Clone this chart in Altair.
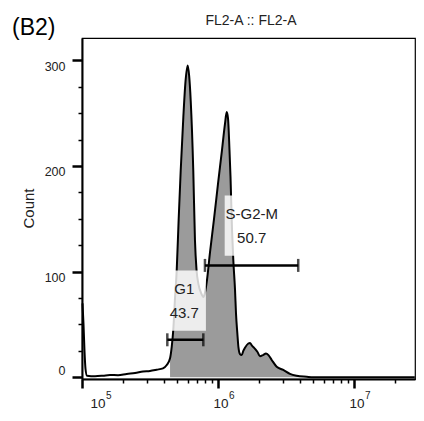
import altair as alt
import pandas as pd

# ---- histogram trace (FL2-A channel value, cell count) ----
fl2a = [1.0085e5, 1.026e5, 1.043e5, 1.061e5, 1.089e5, 1.247e5, 1.426e5, 1.606e5,
        1.841e5, 2.133e5, 2.455e5, 2.81e5, 3.16e5, 3.54e5, 3.94e5, 4.2e5, 4.44e5,
        4.57e5, 4.69e5, 4.83e5, 4.97e5, 5.14e5, 5.32e5, 5.56e5, 5.77e5, 5.99e5,
        6.14e5, 6.3e5, 6.58e5, 6.77e5, 6.95e5, 7.19e5, 7.5e5, 7.82e5, 8.02e5,
        8.26e5, 8.73e5, 9.35e5, 1.0e6, 1.07e6, 1.126e6, 1.159e6, 1.185e6, 1.215e6,
        1.236e6, 1.268e6, 1.296e6, 1.334e6, 1.357e6, 1.387e6, 1.415e6, 1.451e6,
        1.494e6, 1.535e6, 1.579e6, 1.671e6, 1.718e6, 1.778e6, 1.871e6, 1.952e6,
        2.037e6, 2.142e6, 2.254e6, 2.351e6, 2.483e6, 2.702e6, 3.02e6, 3.383e6,
        3.79e6, 4.49e6, 4.995e6, 2.8e7]
count = [70, 50, 25, 8, 1.5, 1.0, 1.5, 2.2,
         2.0, 3.2, 4.0, 5.5, 6.0, 7.2, 8.5, 11.6, 18,
         29, 45, 75, 101, 150, 196, 246, 280, 295,
         285, 262, 196, 130, 102, 88, 80, 76, 80,
         90, 118, 150, 183, 215, 240, 251, 245, 215,
         190, 140, 111, 83, 60, 42, 28, 22,
         21, 25, 28, 32, 32.5, 30, 27, 24,
         20, 21, 22.5, 21, 16.4, 10, 7, 3.3,
         1.5, 0.5, 0, 0]

# ---- gates ----
gate_names = ["G1", "S-G2-M"]
gate_pct = ["43.7", "50.7"]
gate_lo = [4.24e5, 8.02e5]
gate_hi = [7.8e5, 3.89e6]
gate_level = [35.5, 105.9]
label_x = [5.65e5, 1.77e6]
label_name_y = [83.5, 154.5]
label_pct_y = [60.8, 131.7]
box_x1 = [4.05e5, 1.12e6]
box_x2 = [8.15e5, 2.86e6]
box_y1 = [44, 115]
box_y2 = [101, 172]

# ---- axes / texts ----
y_major = [0, 100, 200, 300]
y_minor = [25, 50, 75, 125, 150, 175, 225, 250, 275]
x_major = [1e5, 1e6, 1e7]
x_minor = [2e5, 3e5, 4e5, 5e5, 6e5, 7e5, 8e5, 9e5,
           2e6, 3e6, 4e6, 5e6, 6e6, 7e6, 8e6, 9e6, 2e7]
x_exp = ["5", "6", "7"]
panel_label = ["(B2)"]
plot_title = ["FL2-A :: FL2-A"]

FONT = "Liberation Sans"
W, H = 333, 341

hist = pd.DataFrame({"v": fl2a, "c": count})
gates = pd.DataFrame({"name": gate_names, "pct": gate_pct, "lo": gate_lo, "hi": gate_hi,
                      "lvl": gate_level, "lx": label_x, "ny": label_name_y,
                      "py": label_pct_y, "bx1": box_x1, "bx2": box_x2,
                      "by1": box_y1, "by2": box_y2})
caps = pd.DataFrame({"v": gate_lo + gate_hi, "lvl": gate_level + gate_level})
xlab = pd.DataFrame({"v": x_major, "e": x_exp, "b": ["10"] * 3})
panel = pd.DataFrame({"t": panel_label})
ttl = pd.DataFrame({"t": plot_title})

xs = alt.Scale(type="log", domain=[1e5, 2.81e7], nice=False)
ys = alt.Scale(domain=[-1.6, 321.1], nice=False, zero=False)

major_x_axis = alt.Axis(values=x_major, labels=False, tickSize=9, tickWidth=2.5,
                        tickColor="black", domainColor="black", domainWidth=2,
                        grid=False, title=None, orient="bottom", zindex=1)
major_y_axis = alt.Axis(values=y_major, tickSize=10, tickWidth=2.5, tickColor="black",
                        domainColor="black", domainWidth=2, grid=False,
                        labelFont=FONT, labelFontSize=12.5, labelColor="#222",
                        labelPadding=7, labelAlign="right",
                        labelBaseline={"condition": {"test": "datum.value === 0", "value": "bottom"},
                                       "value": "top"},
                        title="Count", titleFont=FONT, titleFontSize=15,
                        titleFontWeight="normal", titleColor="#222",
                        titleX=-54, titleY=170, titleAngle=270, titleAlign="center",
                        titleBaseline="middle", orient="left", zindex=1)
minor_x_axis = alt.Axis(values=x_minor, labels=False, tickSize=4, tickWidth=1.5,
                        tickColor="black", domain=False, grid=False, title=None,
                        orient="bottom", zindex=1)
minor_y_axis = alt.Axis(values=y_minor, labels=False, tickSize=4, tickWidth=1.5,
                        tickColor="black", domain=False, grid=False, title=None,
                        orient="left", zindex=1)

area = alt.Chart(hist).transform_filter(
    (alt.datum.v >= 4.4e5) & (alt.datum.v <= 5.0e6)
).mark_area(color="#9b9b9b", interpolate="monotone").encode(
    x=alt.X("v:Q", scale=xs, axis=None),
    y=alt.Y("c:Q", scale=ys, axis=None),
)

line = alt.Chart(hist).mark_line(color="black", strokeWidth=2, interpolate="monotone").encode(
    x=alt.X("v:Q", scale=xs, axis=major_x_axis),
    y=alt.Y("c:Q", scale=ys, axis=major_y_axis),
)

boxes = alt.Chart(gates).mark_rect(color="white", opacity=0.82).encode(
    x=alt.X("bx1:Q", scale=xs, axis=minor_x_axis),
    x2="bx2:Q",
    y=alt.Y("by1:Q", scale=ys, axis=minor_y_axis),
    y2="by2:Q",
)

bars = alt.Chart(gates).mark_rule(color="black", strokeWidth=2.5).encode(
    x=alt.X("lo:Q", scale=xs, axis=None),
    x2="hi:Q",
    y=alt.Y("lvl:Q", scale=ys, axis=None),
)

capm = alt.Chart(caps).mark_tick(color="black", orient="vertical", size=13, thickness=2.5).encode(
    x=alt.X("v:Q", scale=xs, axis=None),
    y=alt.Y("lvl:Q", scale=ys, axis=None),
)

name_txt = alt.Chart(gates).mark_text(font=FONT, fontSize=15, color="#222",
                                      baseline="middle", align="center").encode(
    x=alt.X("lx:Q", scale=xs, axis=None),
    y=alt.Y("ny:Q", scale=ys, axis=None),
    text="name:N",
)
pct_txt = alt.Chart(gates).mark_text(font=FONT, fontSize=15, color="#222",
                                     baseline="middle", align="center").encode(
    x=alt.X("lx:Q", scale=xs, axis=None),
    y=alt.Y("py:Q", scale=ys, axis=None),
    text="pct:N",
)

def xl(dx, sel):
    base = alt.Chart(xlab).transform_filter(sel)
    ten = base.mark_text(font=FONT, fontSize=13.5, color="#222", align="center",
                         baseline="alphabetic", dx=dx).encode(
        x=alt.X("v:Q", scale=xs, axis=None), y=alt.value(370), text="b:N")
    sup = base.mark_text(font=FONT, fontSize=10, color="#222", align="left",
                         baseline="alphabetic", dx=dx + 8).encode(
        x=alt.X("v:Q", scale=xs, axis=None), y=alt.value(361), text="e:N")
    return [ten, sup]

xlabels = xl(16, alt.datum.v < 5e5) + xl(3, alt.datum.v > 5e5)

panel_txt = alt.Chart(panel).mark_text(font=FONT, fontSize=23, color="black",
                                       align="left", baseline="alphabetic").encode(
    x=alt.value(-70), y=alt.value(-3), text="t:N")

title_txt = alt.Chart(ttl).mark_text(font=FONT, fontSize=14, color="#222",
                                     align="center", baseline="alphabetic").encode(
    x=alt.value(169), y=alt.value(-13), text="t:N")

chart = alt.layer(
    area, line, boxes, bars, capm, name_txt, pct_txt, *xlabels, panel_txt, title_txt
).resolve_axis(x="independent", y="independent").properties(
    width=W, height=H,
    autosize=alt.AutoSizeParams(type="none"),
    padding={"left": 74, "top": 30, "right": 1, "bottom": 34},
).configure_view(stroke="black", strokeWidth=1.2)

chart.save("out.html", embed_options={"renderer": "svg", "actions": False})
